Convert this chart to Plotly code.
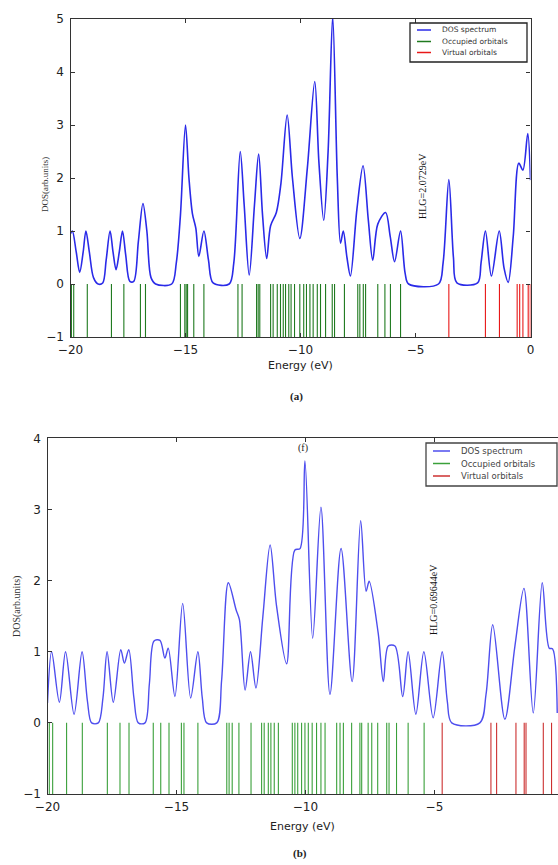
import plotly.graph_objects as go

W, H = 558, 865

# ---------------- Panel (a) data ----------------
a_dos_E = [-20.0, -19.92, -19.75, -19.6, -19.45, -19.33, -19.18, -19.0, -18.8, -18.6, -18.45, -18.28,
           -18.15, -18.02, -17.88, -17.74, -17.6, -17.42, -17.25, -17.05, -16.85, -16.68, -16.5, -16.3,
           -15.6, -15.4, -15.22, -15.0, -14.85, -14.7, -14.55, -14.42, -14.2, -14.0, -13.8, -13.1,
           -12.9, -12.62, -12.45, -12.23, -12.0, -11.82, -11.65, -11.47, -11.3, -11.05, -10.85, -10.58,
           -10.35, -10.03, -9.7, -9.38, -9.2, -8.99, -8.8, -8.6, -8.4, -8.26, -8.14, -7.98, -7.83,
           -7.55, -7.28, -7.05, -6.86, -6.64, -6.3, -6.1, -5.91, -5.65, -5.45, -5.3, -4.0, -3.8,
           -3.55, -3.35, -3.2, -2.3, -2.15, -1.96, -1.7, -1.36, -1.15, -0.97, -0.75, -0.51, -0.33,
           -0.12, 0.0]
a_dos_V = [0.95, 1.0, 0.6, 0.22, 0.6, 1.0, 0.6, 0.12, 0.0, 0.02, 0.45, 1.0,
           0.6, 0.27, 0.6, 1.0, 0.55, 0.05, 0.05, 0.8, 1.52, 1.0, 0.12, 0.0,
           0.0, 0.4, 1.3, 3.0, 2.0, 1.33, 1.05, 0.52, 1.0, 0.45, 0.02, 0.0,
           0.4, 2.5, 1.5, 0.17, 1.5, 2.45, 1.3, 0.48, 1.1, 1.35, 1.9, 3.19,
           2.0, 0.86, 2.2, 3.82, 2.3, 1.2, 2.5, 5.05, 2.0, 0.77, 1.0, 0.5, 0.15,
           1.4, 2.23, 1.2, 0.45, 1.13, 1.35, 0.9, 0.42, 1.0, 0.2, 0.0, 0.0, 0.4,
           1.97, 0.5, 0.02, 0.02, 0.4, 1.0, 0.15, 1.0, 0.3, 0.03, 0.9, 2.28, 2.15,
           2.84, 1.96]
a_occ = [-19.96, -19.86, -19.27, -18.22, -17.68, -16.96, -16.74, -15.22, -15.03, -14.97, -14.91,
         -14.64, -14.2, -12.72, -12.54, -11.91, -11.84, -11.77, -11.30, -11.19, -11.01, -10.87,
         -10.75, -10.65, -10.51, -10.41, -10.26, -10.03, -9.86, -9.74, -9.59, -9.45, -9.27, -9.13,
         -8.91, -8.62, -8.52, -8.09, -7.51, -7.42, -7.27, -7.17, -6.64, -6.33, -6.09, -5.65]
a_vir = [-3.55, -1.96, -1.35, -0.58, -0.47, -0.33, -0.1, -0.01]

# ---------------- Panel (b) data ----------------
b_dos_E = [-20.0, -19.84, -19.54, -19.3, -18.97, -18.66, -18.45, -18.29, -18.03, -17.85, -17.69,
           -17.45, -17.16, -17.02, -16.85, -16.65, -16.48, -16.22, -16.05, -15.87, -15.64, -15.45,
           -15.32, -15.06, -14.76, -14.45, -14.17, -14.0, -13.83, -13.44, -13.25, -12.99, -12.69,
           -12.56, -12.34, -12.13, -11.92, -11.65, -11.37, -11.12, -10.73, -10.41, -10.21, -10.02,
           -9.72, -9.4, -9.05, -8.62, -8.19, -7.86, -7.65, -7.53, -7.18, -6.98, -6.79, -6.53,
           -6.23, -6.02, -5.72, -5.41, -5.05, -4.70, -4.5, -4.33, -3.24, -3.0, -2.74, -2.27,
           -1.88, -1.53, -1.17, -0.82, -0.55, -0.42, -0.24]
b_dos_V = [0.28, 1.0, 0.29, 1.0, 0.12, 1.0, 0.3, 0.0, 0.0, 0.35, 1.0,
           0.29, 1.03, 0.84, 1.03, 0.35, 0.0, 0.0, 0.55, 1.15, 1.16, 0.91,
           1.05, 0.37, 1.68, 0.35, 1.0, 0.35, 0.0, 0.0, 0.6, 1.97, 1.59,
           1.45, 0.46, 1.0, 0.49, 1.5, 2.5, 1.64, 0.83, 2.43, 2.45, 3.68,
           1.19, 3.03, 0.4, 2.45, 0.58, 2.84, 1.85, 1.99, 1.26, 0.58, 1.08, 1.08,
           0.37, 1.0, 0.12, 1.0, 0.07, 1.0, 0.3, 0.0, 0.0, 0.4, 1.38, 0.05,
           1.08, 1.89, 0.14, 1.97, 1.05, 1.04, 0.14]
b_occ = [-19.93, -19.8, -19.26, -18.65, -17.68, -17.19, -16.84, -15.9, -15.61, -15.29, -14.81,
         -14.71, -14.17, -13.05, -12.96, -12.84, -12.58, -12.11, -11.70, -11.60, -11.44, -11.34,
         -11.21, -11.05, -10.51, -10.41, -10.30, -10.15, -10.02, -9.89, -9.74, -9.57, -9.40,
         -9.24, -8.79, -8.66, -8.53, -8.21, -7.89, -7.82, -7.57, -7.43, -7.20, -6.85, -6.76,
         -6.47, -6.02, -5.40]
b_vir = [-4.70, -2.81, -2.59, -1.84, -1.52, -1.45, -0.78, -0.46]

legend_names = ["DOS spectrum", "Occupied orbitals", "Virtual orbitals"]
a_yticks = [-1, 0, 1, 2, 3, 4, 5]
b_yticks = [-1, 0, 1, 2, 3, 4]
xticks = [-20, -15, -10, -5, 0]

A_COLORS = ["#2a2ae8", "#1f7a1f", "#e81818"]
B_COLORS = ["#4e4eee", "#3aa03a", "#cc3030"]


def sticks(energies):
    xs, ys = [], []
    for e in energies:
        xs += [e, e, None]
        ys += [-1, 0, None]
    return xs, ys


fig = go.Figure()

# panel a
fig.add_trace(go.Scatter(x=a_dos_E, y=a_dos_V, mode="lines", name=legend_names[0],
                         line=dict(color=A_COLORS[0], width=1.6, shape="spline", smoothing=0.9),
                         xaxis="x", yaxis="y"))
xs, ys = sticks(a_occ)
fig.add_trace(go.Scatter(x=xs, y=ys, mode="lines", name=legend_names[1],
                         line=dict(color=A_COLORS[1], width=1.1), xaxis="x", yaxis="y"))
xs, ys = sticks(a_vir)
fig.add_trace(go.Scatter(x=xs, y=ys, mode="lines", name=legend_names[2],
                         line=dict(color=A_COLORS[2], width=1.1), xaxis="x", yaxis="y"))

# panel b
fig.add_trace(go.Scatter(x=b_dos_E, y=b_dos_V, mode="lines", name=legend_names[0],
                         line=dict(color=B_COLORS[0], width=1.4, shape="spline", smoothing=0.9),
                         xaxis="x2", yaxis="y2"))
xs, ys = sticks(b_occ)
fig.add_trace(go.Scatter(x=xs, y=ys, mode="lines", name=legend_names[1],
                         line=dict(color=B_COLORS[1], width=1.1), xaxis="x2", yaxis="y2"))
xs, ys = sticks(b_vir)
fig.add_trace(go.Scatter(x=xs, y=ys, mode="lines", name=legend_names[2],
                         line=dict(color=B_COLORS[2], width=1.1), xaxis="x2", yaxis="y2"))

tickfont = dict(family="DejaVu Sans", size=12, color="#222")
axcommon = dict(showgrid=False, zeroline=False, showline=True, linecolor="#333", linewidth=1.2,
                ticks="inside", ticklen=4, tickcolor="#333", tickfont=tickfont, automargin=False)


def py(px):
    return 1 - px / H


def pxx(px):
    return px / W


fig.update_layout(
    width=W, height=H, margin=dict(l=0, r=0, t=0, b=0, autoexpand=False),
    paper_bgcolor="white", plot_bgcolor="white", showlegend=False,
    xaxis=dict(domain=[pxx(70.5), pxx(530.5)], range=[-20, 0], tickvals=xticks,
               anchor="y", mirror="ticks", ticklabelstandoff=1, **axcommon),
    yaxis=dict(domain=[py(337), py(19)], range=[-1, 5], tickvals=a_yticks,
               anchor="x", mirror="ticks", ticklabelstandoff=3, **axcommon),
    xaxis2=dict(domain=[pxx(47.5), 1.0], range=[-20, -0.21], tickvals=xticks,
                anchor="y2", mirror="ticks", ticklabelstandoff=1, **axcommon),
    yaxis2=dict(domain=[py(794), py(438.3)], range=[-1, 4], tickvals=b_yticks,
                anchor="x2", ticklabelstandoff=3, **axcommon),
)

shapes = []
ann = []


def add_legend(box, line_x, text_x, rows, colors, fsize, fcolor, bcolor):
    x0, y0, x1, y1 = box
    shapes.append(dict(type="rect", xref="paper", yref="paper",
                       x0=pxx(x0), x1=pxx(x1), y0=py(y1), y1=py(y0),
                       fillcolor="white", line=dict(color=bcolor, width=1.3), layer="above"))
    for name, col, ry in zip(legend_names, colors, rows):
        shapes.append(dict(type="line", xref="paper", yref="paper",
                           x0=pxx(line_x[0]), x1=pxx(line_x[1]), y0=py(ry), y1=py(ry),
                           line=dict(color=col, width=1.5), layer="above"))
        ann.append(dict(x=pxx(text_x), y=py(ry), text=name, showarrow=False,
                        xanchor="left", yanchor="middle",
                        font=dict(family="DejaVu Sans", size=fsize, color=fcolor)))


add_legend((410, 23, 527, 62), (417, 431), 440, [30, 41.5, 52.5], A_COLORS, 7.5, "#333", "#222")
add_legend((426, 443, 557, 486), (433, 450), 459, [451, 463.5, 476], B_COLORS, 8.5, "#444", "#444")


def label(x, y, text, size, family, angle=0, color="#222"):
    ann.append(dict(x=pxx(x), y=py(y), text=text, showarrow=False, textangle=angle,
                    xanchor="center", yanchor="middle",
                    font=dict(family=family, size=size, color=color)))


# panel a texts
label(300, 365, "Energy (eV)", 11, "DejaVu Sans")
label(296, 396, "<b>(a)</b>", 11, "Liberation Serif")
label(45, 185, "DOS(arb.units)", 9, "Liberation Serif", -90, "#333")
label(422, 186, "HLG=2.0729eV", 10, "Liberation Serif", -90, "#111")
# panel b texts
label(302, 826, "Energy (eV)", 11, "DejaVu Sans")
label(300, 853, "<b>(b)</b>", 11, "Liberation Serif")
label(17, 607, "DOS(arb.units)", 10, "Liberation Serif", -90, "#333")
label(433, 600, "HLG=0.69644eV", 10, "Liberation Serif", -90, "#111")
label(303, 448, "(f)", 10, "Liberation Serif")

for a in ann:
    a.update(xref="paper", yref="paper")
fig.update_layout(annotations=ann, shapes=shapes)

fig.write_html("out.html", config={"displayModeBar": False},
               post_script="document.body.style.margin='0';document.body.style.overflow='hidden';")
